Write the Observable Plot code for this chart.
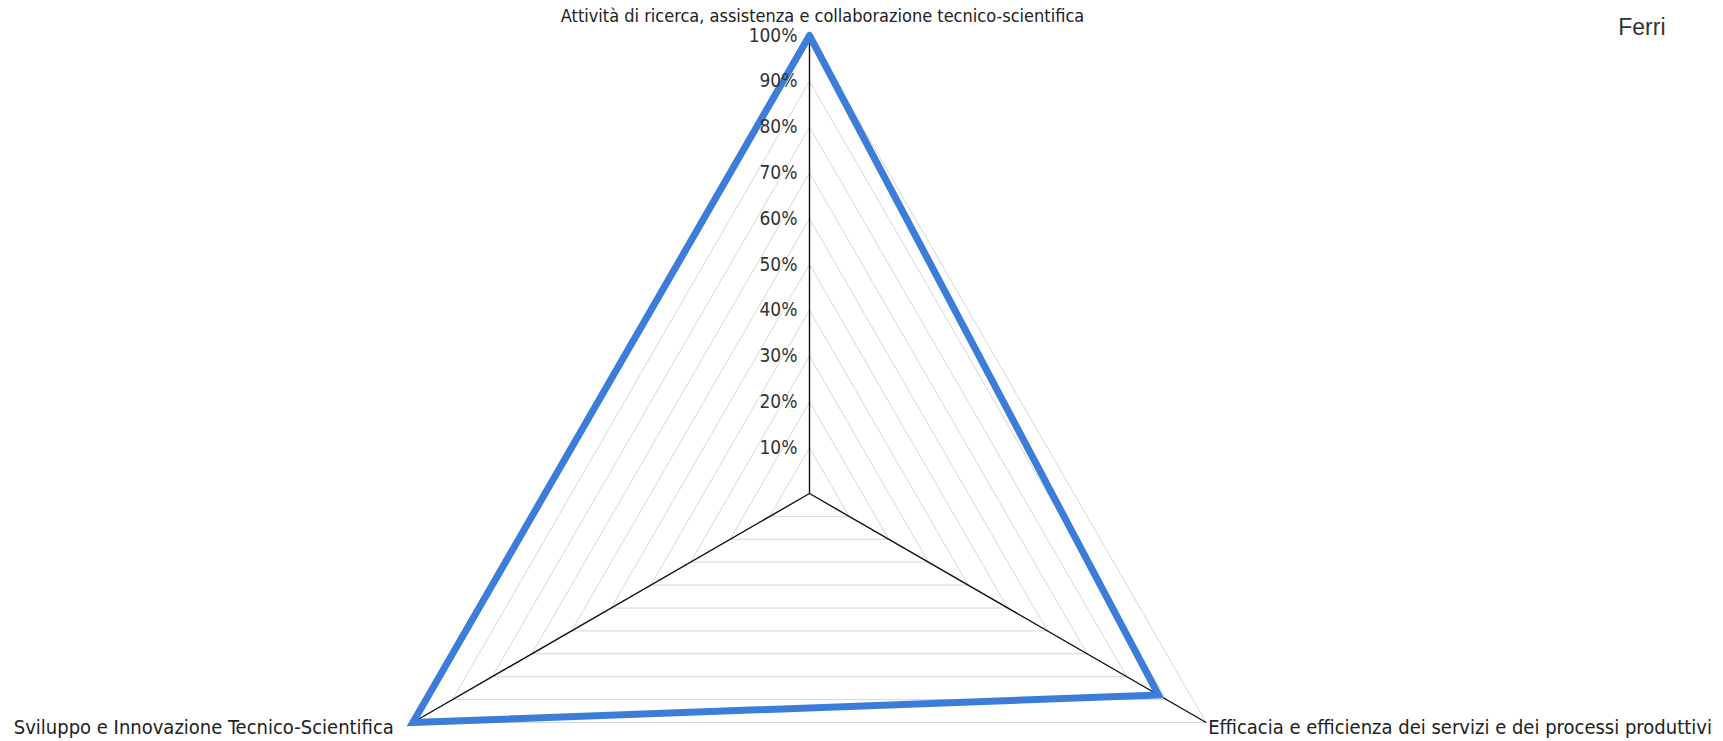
<!DOCTYPE html>
<html><head><meta charset="utf-8">
<script src="https://cdn.jsdelivr.net/npm/d3@7"></script>
<script src="https://cdn.jsdelivr.net/npm/@observablehq/plot@0.6"></script>
<style>body{margin:0;background:#fff;overflow:hidden}</style>
</head><body><div id="chart"></div>
<script>
const categories = [
  "Attività di ricerca, assistenza e collaborazione tecnico-scientifica",
  "Efficacia e efficienza dei servizi e dei processi produttivi",
  "Sviluppo e Innovazione Tecnico-Scientifica"
];
const seriesName = "Ferri";
const values = [1.00, 0.88, 1.00];
const ticks = [0.1, 0.2, 0.3, 0.4, 0.5, 0.6, 0.7, 0.8, 0.9, 1.0];
const tickLabels = ["10%", "20%", "30%", "40%", "50%", "60%", "70%", "80%", "90%", "100%"];

const W = 1723, H = 741, CX = 809, CY = 493, R = 458;
const angle = i => Math.PI / 2 - i * 2 * Math.PI / categories.length;
const pt = (i, r) => ({x: r * Math.cos(angle(i)), y: r * Math.sin(angle(i))});

const rings = ticks.flatMap(t => [...categories.map((c, i) => ({t, ...pt(i, t)})), {t, ...pt(0, t)}]);
const spokes = categories.map((c, i) => ({x1: 0, y1: 0, x2: pt(i, 1).x, y2: pt(i, 1).y}));
const series = [...values.map((v, i) => pt(i, v)), pt(0, values[0])];
const labelPts = categories.map((c, i) => ({label: c, ...pt(i, 1)}));
const tickPts = ticks.map((t, k) => ({label: tickLabels[k], x: 0, y: t}));

const cond = "'DejaVu Sans Condensed', 'DejaVu Sans', sans-serif";
const chart = Plot.plot({
  width: W, height: H,
  marginTop: 0, marginRight: 0, marginBottom: 0, marginLeft: 0,
  x: {domain: [-CX / R, (W - CX) / R], axis: null},
  y: {domain: [-(H - CY) / R, CY / R], axis: null},
  style: {fontFamily: cond, background: "#fff"},
  marks: [
    Plot.line(rings, {x: "x", y: "y", z: "t", stroke: "#cccccc", strokeWidth: 0.8}),
    Plot.link(spokes, {x1: "x1", y1: "y1", x2: "x2", y2: "y2", stroke: "#111", strokeWidth: 1.4}),
    Plot.line(series, {x: "x", y: "y", stroke: "#3b7dd8", strokeWidth: 7, strokeLinejoin: "miter", strokeMiterlimit: 10}),
    Plot.text(tickPts, {x: "x", y: "y", text: "label", textAnchor: "end", dx: -12, fontSize: 19, fill: "#333", fontFamily: cond}),
    Plot.text(labelPts.filter((d, i) => i === 0), {x: "x", y: "y", text: "label", textAnchor: "middle", dx: 13, dy: -19, fontSize: 18, fill: "#222", fontFamily: cond}),
    Plot.text(labelPts.filter((d, i) => i === 1), {x: "x", y: "y", text: "label", textAnchor: "start", dx: 2, dy: 5, fontSize: 20, fill: "#222", fontFamily: cond}),
    Plot.text(labelPts.filter((d, i) => i === 2), {x: "x", y: "y", text: "label", textAnchor: "end", dx: -19, dy: 5, fontSize: 20, fill: "#222", fontFamily: cond}),
    Plot.text([seriesName], {frameAnchor: "top-right", lineAnchor: "middle", text: d => d, dx: -58, dy: 27, fontSize: 23, fill: "#333", fontFamily: "'Liberation Sans', Arial, sans-serif"})
  ]
});
document.getElementById("chart").appendChild(chart);
</script>
</body></html>
